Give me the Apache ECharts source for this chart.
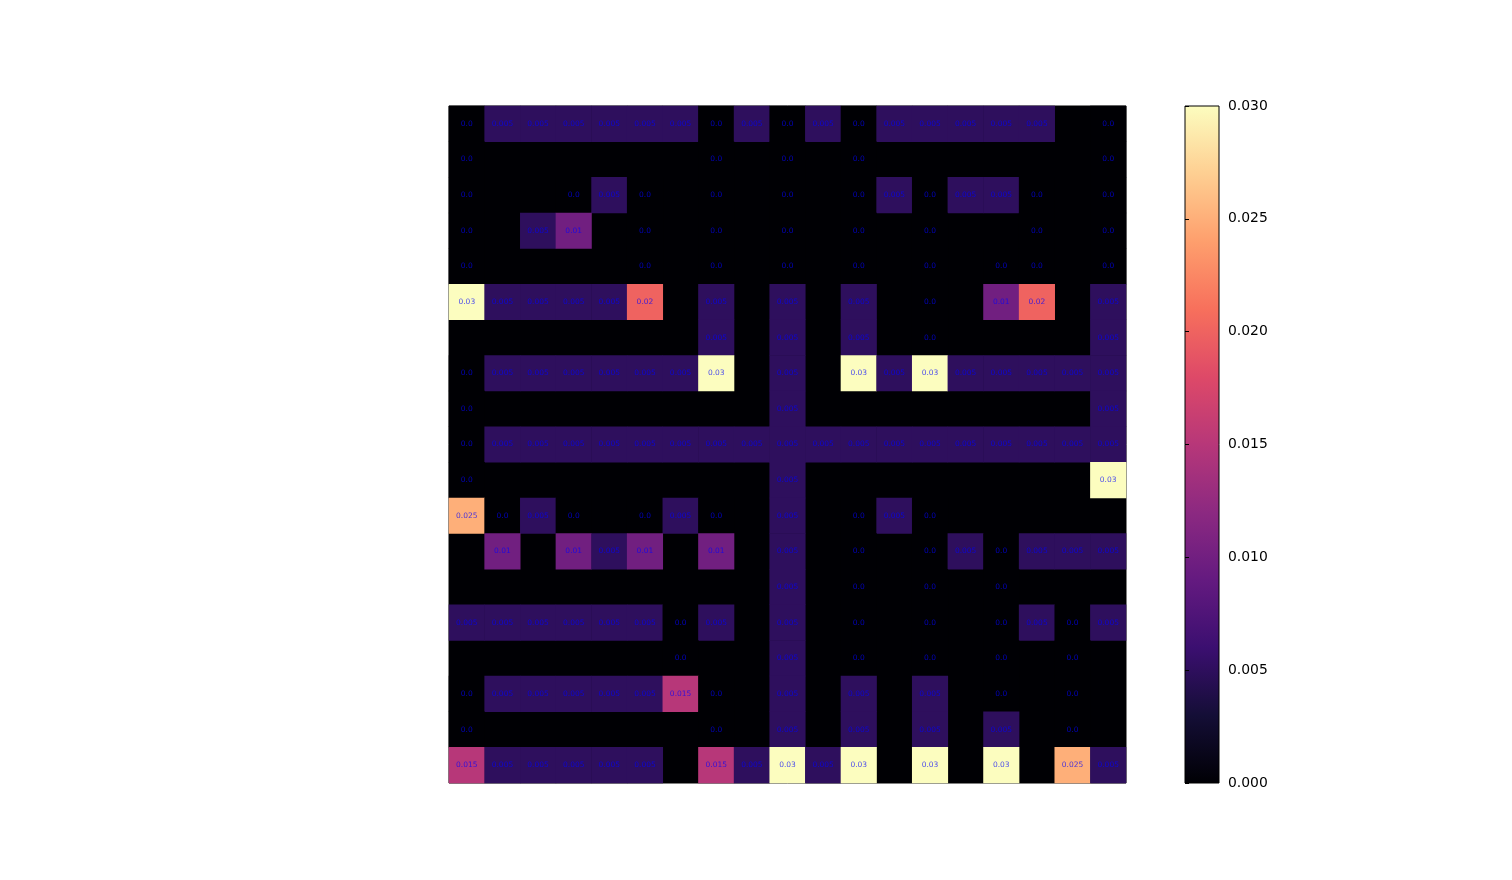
<!DOCTYPE html>
<html>
<head>
<meta charset="utf-8">
<style>
  html, body { margin: 0; padding: 0; background: #fff; }
  #chart { width: 1512px; height: 880px; }
</style>
<script src="https://cdn.jsdelivr.net/npm/echarts@6/dist/echarts.min.js"></script>
</head>
<body>
<div id="chart"></div>
<script>
// blank (unannotated) cells are null
const _ = null;
const cells = [
  [0, .005, .005, .005, .005, .005, .005, 0, .005, 0, .005, 0, .005, .005, .005, .005, .005, _, 0],
  [0, _, _, _, _, _, _, 0, _, 0, _, 0, _, _, _, _, _, _, 0],
  [0, _, _, 0, .005, 0, _, 0, _, 0, _, 0, .005, 0, .005, .005, 0, _, 0],
  [0, _, .005, .01, _, 0, _, 0, _, 0, _, 0, _, 0, _, _, 0, _, 0],
  [0, _, _, _, _, 0, _, 0, _, 0, _, 0, _, 0, _, 0, 0, _, 0],
  [.03, .005, .005, .005, .005, .02, _, .005, _, .005, _, .005, _, 0, _, .01, .02, _, .005],
  [_, _, _, _, _, _, _, .005, _, .005, _, .005, _, 0, _, _, _, _, .005],
  [0, .005, .005, .005, .005, .005, .005, .03, _, .005, _, .03, .005, .03, .005, .005, .005, .005, .005],
  [0, _, _, _, _, _, _, _, _, .005, _, _, _, _, _, _, _, _, .005],
  [0, .005, .005, .005, .005, .005, .005, .005, .005, .005, .005, .005, .005, .005, .005, .005, .005, .005, .005],
  [0, _, _, _, _, _, _, _, _, .005, _, _, _, _, _, _, _, _, .03],
  [.025, 0, .005, 0, _, 0, .005, 0, _, .005, _, 0, .005, 0, _, _, _, _, _],
  [_, .01, _, .01, .005, .01, _, .01, _, .005, _, 0, _, 0, .005, 0, .005, .005, .005],
  [_, _, _, _, _, _, _, _, _, .005, _, 0, _, 0, _, 0, _, _, _],
  [.005, .005, .005, .005, .005, .005, 0, .005, _, .005, _, 0, _, 0, _, 0, .005, 0, .005],
  [_, _, _, _, _, _, 0, _, _, .005, _, 0, _, 0, _, 0, _, 0, _],
  [0, .005, .005, .005, .005, .005, .015, 0, _, .005, _, .005, _, .005, _, 0, _, 0, _],
  [0, _, _, _, _, _, _, 0, _, .005, _, .005, _, .005, _, .005, _, 0, _],
  [.015, .005, .005, .005, .005, .005, _, .015, .005, .03, .005, .03, _, .03, _, .03, _, .025, .005]
];
const cols = cells[0].map((d, i) => String(i));
const rows = cells.map((d, i) => String(i));
const vMin = 0, vMax = 0.03;

// magma
const magma = ['#000004', '#140e36', '#3b0f70', '#641a80', '#8c2981', '#b73779',
  '#de4968', '#f7705c', '#fe9f6d', '#fecf92', '#fcfdbf'];

const data = [];
cells.forEach((row, y) => {
  row.forEach((v, x) => {
    if (v !== null) data.push([x, y, v]);
  });
});

const chart = echarts.init(document.getElementById('chart'));
chart.setOption({
  animation: false,
  backgroundColor: '#fff',
  textStyle: { fontFamily: 'DejaVu Sans' },
  grid: [
    { left: 449, top: 106, width: 677, height: 677, show: true,
      backgroundColor: '#000004', borderColor: '#000', borderWidth: 1 },
    { left: 1185, top: 106, width: 34, height: 677, show: true, borderColor: '#000', borderWidth: 1,
      backgroundColor: {
        type: 'linear', x: 0, y: 1, x2: 0, y2: 0,
        colorStops: magma.map((c, i) => ({ offset: i / (magma.length - 1), color: c }))
      } }
  ],
  xAxis: [
    { type: 'category', data: cols, gridIndex: 0, show: false },
    { type: 'value', gridIndex: 1, show: false, min: 0, max: 1 }
  ],
  yAxis: [
    { type: 'category', data: rows, gridIndex: 0, inverse: true, show: false },
    { type: 'value', gridIndex: 1, position: 'right', min: vMin, max: vMax, interval: 0.005,
      axisLine: { show: false },
      axisTick: { show: true, length: 4, lineStyle: { color: '#000', width: 1 } },
      splitLine: { show: false },
      axisLabel: { color: '#000', fontSize: 13.9, margin: 9, fontFamily: 'DejaVu Sans',
        padding: [9, 0, 0, 0],
        formatter: v => v.toFixed(3) } }
  ],
  visualMap: {
    show: false, type: 'continuous', seriesIndex: 0, min: vMin, max: vMax,
    inRange: { color: magma }
  },
  series: [{
    type: 'heatmap',
    xAxisIndex: 0, yAxisIndex: 0,
    data: data,
    emphasis: { disabled: true },
    label: {
      show: true,
      color: 'rgba(0,0,255,0.72)',
      fontSize: 7.5,
      fontFamily: 'DejaVu Sans',
      formatter: p => (p.value[2] === 0 ? '0.0' : String(p.value[2]))
    }
  }]
});
</script>
</body>
</html>
